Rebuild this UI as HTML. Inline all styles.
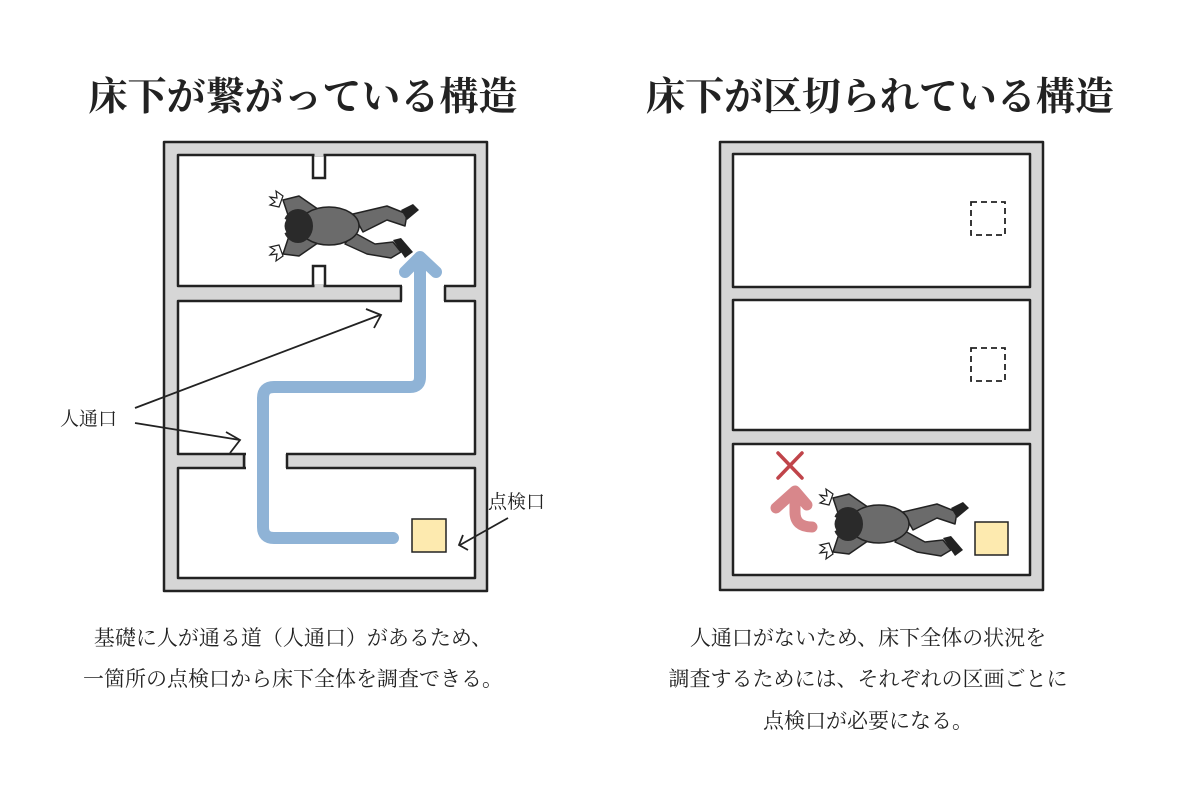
<!DOCTYPE html>
<html><head><meta charset="utf-8"><style>
html,body{margin:0;padding:0;background:#fff;}
svg{display:block}
text{font-family:"Liberation Serif","Noto Serif CJK SC","Noto Sans CJK JP",serif;fill:#222}
</style></head><body>
<svg width="1200" height="800" viewBox="0 0 1200 800" xmlns="http://www.w3.org/2000/svg">
<defs>
<g id="person">
  <path d="M-6,-6 L-12,-24 L4,-28 L30,-10" fill="#6b6b6b" stroke="#222" stroke-width="1.5" stroke-linejoin="round"/>
  <path d="M-6,12 L-12,30 L4,32 L30,14" fill="#6b6b6b" stroke="#222" stroke-width="1.5" stroke-linejoin="round"/>
  <path d="M-12,-28 l-7,-5 l1,7 l-7,-1 l5,5 l-5,3 l9,2z" fill="#fff" stroke="#222" stroke-width="1.2"/>
  <path d="M-12,32 l-7,5 l1,-7 l-7,1 l5,-5 l-5,-3 l9,-2z" fill="#fff" stroke="#222" stroke-width="1.2"/>
  <path d="M58,-10 L92,-18 L112,-10 L110,2 L92,-4 L68,8z" fill="#6b6b6b" stroke="#222" stroke-width="1.5" stroke-linejoin="round"/>
  <path d="M58,8 L80,20 L98,18 L106,28 L96,34 L72,30 L50,20z" fill="#6b6b6b" stroke="#222" stroke-width="1.5" stroke-linejoin="round"/>
  <path d="M106,-14 l12,-6 l6,6 l-12,10z" fill="#222"/>
  <path d="M98,16 l8,-2 l12,14 l-8,6z" fill="#222"/>
  <ellipse cx="34" cy="2" rx="30" ry="19" fill="#6b6b6b" stroke="#222" stroke-width="1.5"/>
  <ellipse cx="3" cy="2" rx="15" ry="17" fill="#2a2a2a"/>
  <path d="M-10,-5 q-4,7 0,14" stroke="#fff" stroke-width="3" fill="none"/>
</g>
</defs>

<text x="303" y="110" font-size="39" font-weight="bold" text-anchor="middle">床下が繋がっている構造</text>
<text x="880" y="110" font-size="39" font-weight="bold" text-anchor="middle">床下が区切られている構造</text>

<g stroke="#222" stroke-width="2.5" stroke-linejoin="round">
  <rect x="164" y="142" width="323" height="449" fill="#d6d6d6"/>
  <rect x="178" y="155" width="297" height="131" fill="#fff"/>
  <rect x="178" y="301" width="297" height="153" fill="#fff"/>
  <rect x="178" y="468" width="297" height="110" fill="#fff"/>
</g>
<rect x="402" y="283" width="42" height="21" fill="#fff"/>
<rect x="246" y="451" width="40" height="20" fill="#fff"/>
<g stroke="#222" stroke-width="2.5" fill="none">
  <path d="M401,286 V301"/><path d="M445,286 V301"/>
  <path d="M244,454 V468"/><path d="M287,454 V468"/>
  <path d="M313,155 V178 H325 V155"/>
  <path d="M313,286 V266 H325 V286"/>
</g>
<rect x="314.5" y="152" width="9" height="4" fill="#d6d6d6"/>
<rect x="314.5" y="284" width="9" height="4" fill="#d6d6d6"/>

<path d="M393,538 H274 Q263,538 263,527 V398 Q263,387 274,387 H410 Q420,387 420,377 V262" fill="none" stroke="#8fb3d6" stroke-width="12" stroke-linecap="round" stroke-linejoin="round"/>
<path d="M405,272 L420,257 L436,272" fill="none" stroke="#8fb3d6" stroke-width="12" stroke-linecap="round" stroke-linejoin="round"/>

<use href="#person" x="295" y="224"/>

<rect x="412" y="519" width="34" height="33" fill="#fdeaaf" stroke="#222" stroke-width="1.5"/>

<g stroke="#222" stroke-width="1.8" fill="none">
  <path d="M135,408 L380,315"/><path d="M366,309 L381,315 L374,328"/>
  <path d="M135,423 L240,440"/><path d="M230,453 L240,440 L226,432"/>
  <path d="M508,518 L460,545"/><path d="M468,550 L459,545 L463,535"/>
</g>
<text x="60" y="425" font-size="19">人通口</text>
<text x="488" y="508" font-size="19">点検口</text>

<text x="293" y="645" font-size="21" text-anchor="middle">基礎に人が通る道（人通口）があるため、</text>
<text x="293" y="686" font-size="21" text-anchor="middle">一箇所の点検口から床下全体を調査できる。</text>

<g stroke="#222" stroke-width="2.5" stroke-linejoin="round">
  <rect x="720" y="142" width="323" height="448" fill="#d6d6d6"/>
  <rect x="733" y="154" width="297" height="133" fill="#fff"/>
  <rect x="733" y="300" width="297" height="130" fill="#fff"/>
  <rect x="733" y="444" width="297" height="131" fill="#fff"/>
</g>
<g stroke="#222" stroke-width="1.8" fill="none" stroke-dasharray="6,4">
  <rect x="971" y="202" width="34" height="33"/>
  <rect x="971" y="348" width="34" height="33"/>
</g>
<rect x="975" y="522" width="33" height="33" fill="#fdeaaf" stroke="#222" stroke-width="1.5"/>
<g stroke="#c0444a" stroke-width="3.5" stroke-linecap="round">
  <path d="M778,453 L802,478"/><path d="M802,453 L778,478"/>
</g>
<path d="M812,527 Q795,527 795,512 V497" fill="none" stroke="#d8878b" stroke-width="11" stroke-linecap="round"/>
<path d="M776,508 L795,491 L807,505" fill="none" stroke="#d8878b" stroke-width="11" stroke-linecap="round" stroke-linejoin="round"/>
<use href="#person" x="845" y="522"/>

<text x="868" y="645" font-size="21" text-anchor="middle">人通口がないため、床下全体の状況を</text>
<text x="868" y="686" font-size="21" text-anchor="middle">調査するためには、それぞれの区画ごとに</text>
<text x="868" y="728" font-size="21" text-anchor="middle">点検口が必要になる。</text>
</svg>
</body></html>
